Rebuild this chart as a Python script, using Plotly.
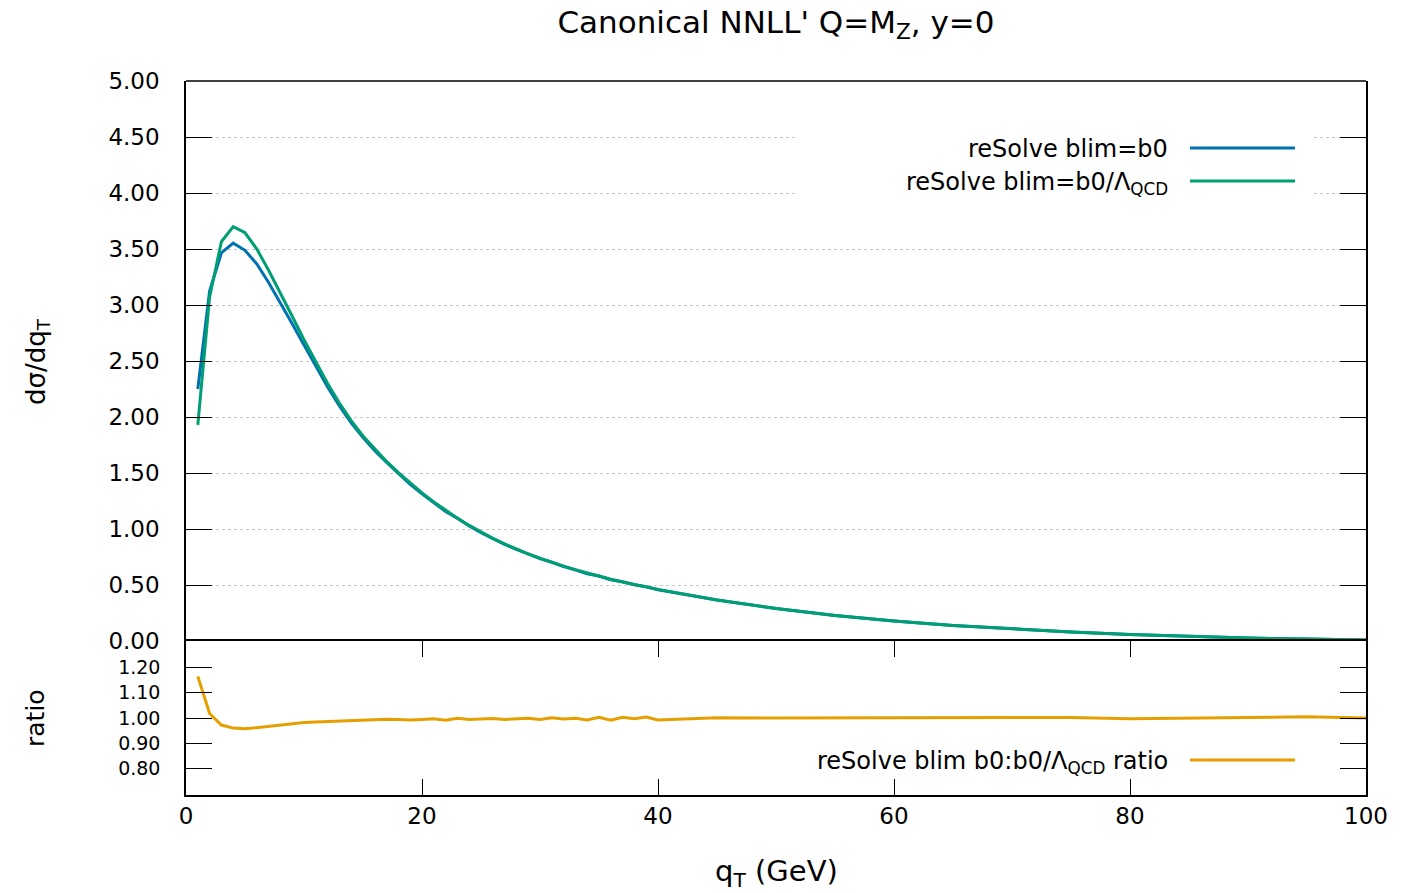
import plotly.graph_objects as go

# ---------------- data ----------------
qt = list(range(1, 41)) + [45, 50, 55, 60, 65, 70, 75, 80, 85, 90, 95, 100]

sigma_b0 = [2.25, 3.125, 3.465, 3.552, 3.488, 3.367, 3.201, 3.023, 2.833, 2.642,
            2.450, 2.268, 2.100, 1.948, 1.816, 1.700, 1.595, 1.494, 1.399, 1.315,
            1.238, 1.156, 1.096, 1.026, 0.968, 0.915, 0.862, 0.818, 0.777, 0.735,
            0.703, 0.665, 0.635, 0.601, 0.580, 0.547, 0.529, 0.502, 0.484, 0.457,
            0.366, 0.290, 0.228, 0.178, 0.139, 0.107, 0.080, 0.057, 0.040, 0.027,
            0.017, 0.009]

sigma_b0_lqcd = [1.93, 3.07, 3.565, 3.70, 3.645, 3.50, 3.31, 3.11, 2.90, 2.69,
                 2.49, 2.30, 2.125, 1.968, 1.831, 1.712, 1.603, 1.503, 1.410, 1.323,
                 1.242, 1.167, 1.097, 1.032, 0.972, 0.917, 0.867, 0.821, 0.778, 0.739,
                 0.702, 0.668, 0.636, 0.606, 0.578, 0.552, 0.527, 0.504, 0.482, 0.461,
                 0.366, 0.290, 0.228, 0.178, 0.139, 0.107, 0.080, 0.057, 0.040, 0.027,
                 0.017, 0.009]

ratio = [1.165, 1.018, 0.972, 0.960, 0.957, 0.962, 0.967, 0.972, 0.977, 0.982,
         0.984, 0.986, 0.988, 0.990, 0.992, 0.993, 0.995, 0.994, 0.992, 0.994,
         0.997, 0.991, 0.999, 0.994, 0.996, 0.998, 0.994, 0.996, 0.999, 0.994,
         1.001, 0.996, 0.999, 0.992, 1.003, 0.991, 1.003, 0.997, 1.004, 0.992,
         1.001, 1.000, 1.000, 1.002, 1.002, 0.999, 1.002, 0.997, 0.999, 1.003,
         1.005, 1.000]

main_yticks = [0, 0.5, 1, 1.5, 2, 2.5, 3, 3.5, 4, 4.5, 5]
ratio_yticks = [0.8, 0.9, 1.0, 1.1, 1.2]
x_ticks = [0, 20, 40, 60, 80, 100]

name_b0 = "reSolve blim=b0"
name_lqcd = "reSolve blim=b0/Λ<sub>QCD</sub>"
name_ratio = "reSolve blim b0:b0/Λ<sub>QCD</sub> ratio"

# ---------------- styling ----------------
BLUE = "#0072b2"
GREEN = "#009e73"
ORANGE = "#e69f00"
FONT = "DejaVu Sans"
W, H = 1410, 893
L, R, T, B = 186, 44, 81, 98
plot_w = W - L - R
plot_h = H - T - B
split = 154 / plot_h
LW = 1.5


def px_x(px):
    return (px - L) / plot_w


def px_y(py):
    return (H - B - py) / plot_h


fig = go.Figure()
fig.add_trace(go.Scatter(x=qt, y=sigma_b0, mode="lines", name=name_b0,
                         line=dict(color=BLUE, width=3), xaxis="x", yaxis="y",
                         showlegend=False))
fig.add_trace(go.Scatter(x=qt, y=sigma_b0_lqcd, mode="lines", name=name_lqcd,
                         line=dict(color=GREEN, width=3), xaxis="x", yaxis="y",
                         showlegend=False))
fig.add_trace(go.Scatter(x=qt, y=ratio, mode="lines", name=name_ratio,
                         line=dict(color=ORANGE, width=3), xaxis="x2", yaxis="y2",
                         showlegend=False))

yaxis_common = dict(showline=True, linecolor="black", linewidth=LW, mirror="ticks",
                    zeroline=False, ticks="inside", ticklen=26, tickwidth=1.2,
                    tickcolor="black", tickformat=".2f", ticklabelstandoff=20)

fig.update_layout(
    width=W, height=H,
    margin=dict(l=L, r=R, t=T, b=B, autoexpand=False),
    paper_bgcolor="white", plot_bgcolor="white",
    font=dict(family=FONT, color="black"),
    title=dict(text="Canonical NNLL' Q=M<sub>Z</sub>, y=0",
               x=0.5, xref="paper", xanchor="center",
               y=1 - 22 / H, yref="container", yanchor="middle",
               font=dict(family=FONT, size=31, color="black")),
    xaxis=dict(domain=[0, 1], range=[0, 100], anchor="y", matches="x2",
               showticklabels=False, ticks="", showgrid=False, showline=False,
               zeroline=False),
    yaxis=dict(domain=[split, 1], range=[0, 5], anchor="x",
               tickvals=main_yticks, tickfont=dict(family=FONT, size=23),
               showgrid=True, gridcolor="#c8c8c8", griddash="dot", gridwidth=1,
               **yaxis_common),
    xaxis2=dict(domain=[0, 1], range=[0, 100], anchor="y2",
                tickvals=x_ticks, ticks="inside", ticklen=16, tickwidth=1.2,
                tickcolor="black", tickfont=dict(family=FONT, size=23),
                showgrid=False, showline=True, linecolor="black", linewidth=LW,
                mirror="ticks", zeroline=False, ticklabelstandoff=0),
    yaxis2=dict(domain=[0, split], range=[0.695, 1.305], anchor="x2",
                tickvals=ratio_yticks, tickfont=dict(family=FONT, size=19),
                showgrid=False, **yaxis_common),
)

# top border of the upper panel
fig.add_shape(type="line", xref="paper", yref="paper", x0=0, x1=1, y0=1, y1=1,
              line=dict(color="black", width=LW), layer="above")

# opaque legend box (hides grid lines behind the key, like gnuplot)
fig.add_shape(type="rect", xref="paper", yref="paper",
              x0=px_x(797), x1=px_x(1313), y0=px_y(205), y1=px_y(125),
              fillcolor="white", line=dict(width=0), layer="above")

# key entries: text right-aligned, line sample on the right
legend_entries = [
    (name_b0, BLUE, 149, 148),
    (name_lqcd, GREEN, 183, 181),
    (name_ratio, ORANGE, 762, 760),
]
for text, color, ty, ly in legend_entries:
    fig.add_annotation(text=text, xref="paper", yref="paper",
                       x=px_x(1170), y=px_y(ty), xanchor="right", yanchor="middle",
                       showarrow=False, font=dict(family=FONT, size=24, color="black"))
    fig.add_shape(type="line", xref="paper", yref="paper",
                  x0=px_x(1190), x1=px_x(1295), y0=px_y(ly), y1=px_y(ly),
                  line=dict(color=color, width=3), layer="above")

# axis titles
fig.add_annotation(text="dσ/dq<sub>T</sub>", xref="paper", yref="paper",
                   x=px_x(37), y=px_y(362), textangle=-90,
                   xanchor="center", yanchor="middle", showarrow=False,
                   font=dict(family=FONT, size=26, color="black"))
fig.add_annotation(text="ratio", xref="paper", yref="paper",
                   x=px_x(35), y=px_y(718), textangle=-90,
                   xanchor="center", yanchor="middle", showarrow=False,
                   font=dict(family=FONT, size=25, color="black"))
fig.add_annotation(text="q<sub>T</sub> (GeV)", xref="paper", yref="paper",
                   x=0.5, y=px_y(873), xanchor="center", yanchor="middle",
                   showarrow=False, font=dict(family=FONT, size=29, color="black"))

fig.write_html("out.html")
